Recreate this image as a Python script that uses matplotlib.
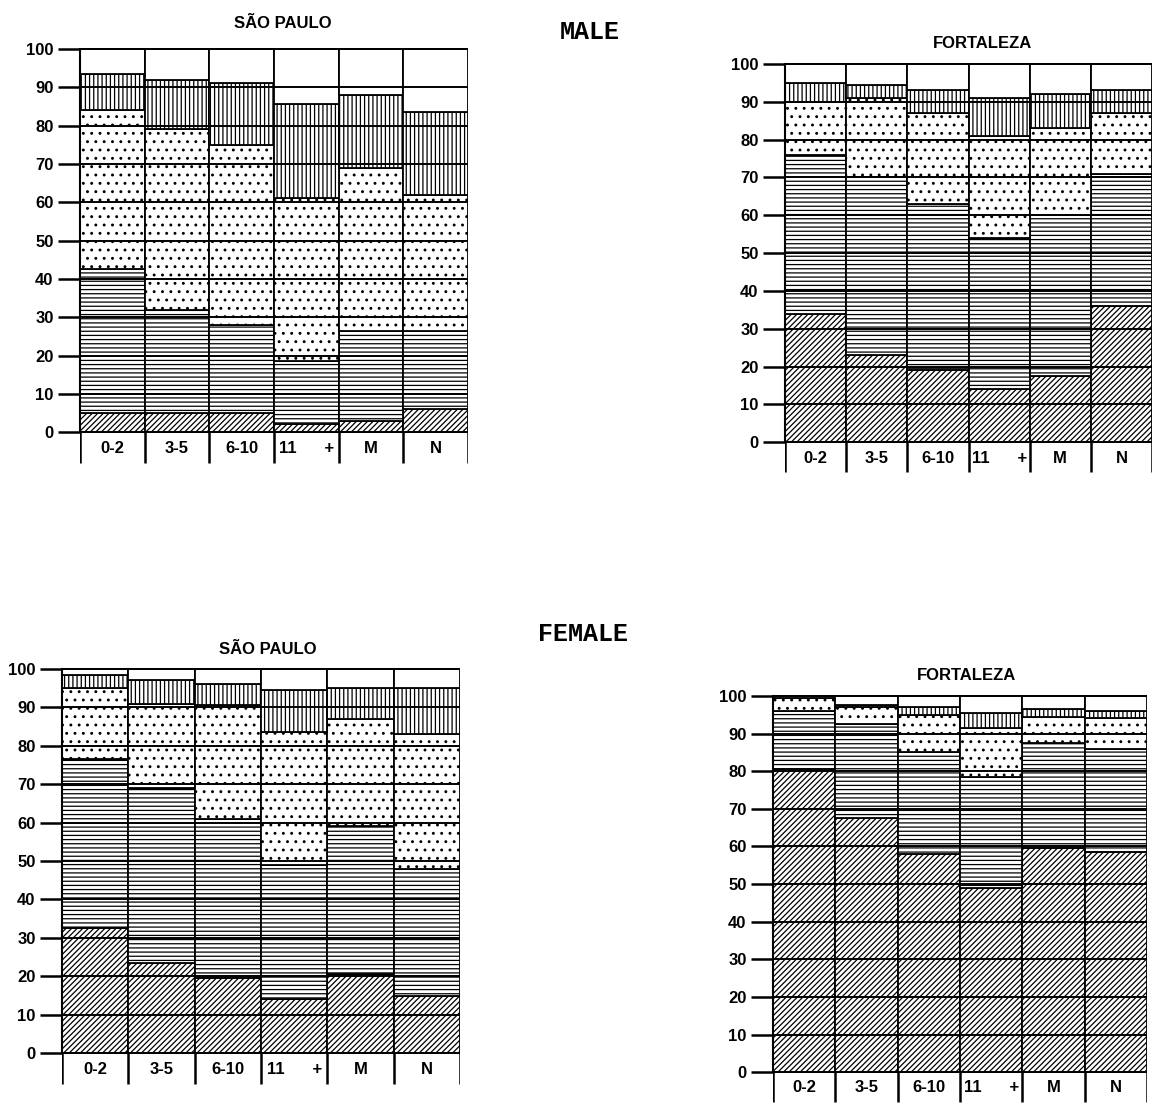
import numpy as np
import matplotlib
matplotlib.use("Agg")
import matplotlib.pyplot as plt

# categories (age groups + M, N)
categories = ['0-2', '3-5', '6-10', '11      +', 'M', 'N']
y_ticks = [0, 10, 20, 30, 40, 50, 60, 70, 80, 90, 100]

# percent in each band, bottom to top (diagonal, horizontal, dotted, vertical, blank)
male_sp_diag   = [5.0, 5.0, 5.0, 2.0, 3.0, 6.0]
male_sp_horiz  = [37.5, 27.0, 23.0, 16.5, 23.5, 20.5]
male_sp_dots   = [41.5, 47.0, 47.0, 42.5, 42.5, 35.5]
male_sp_vert   = [9.5, 13.0, 16.0, 24.5, 19.0, 21.5]
male_sp_blank  = [6.5, 8.0, 9.0, 14.5, 12.0, 16.5]

male_fo_diag   = [34.0, 23.0, 19.0, 14.0, 17.5, 36.0]
male_fo_horiz  = [42.0, 47.0, 44.0, 40.0, 42.5, 35.0]
male_fo_dots   = [14.0, 21.0, 24.0, 27.0, 23.0, 16.0]
male_fo_vert   = [5.0, 3.5, 6.0, 10.0, 9.0, 6.0]
male_fo_blank  = [5.0, 5.5, 7.0, 9.0, 8.0, 7.0]

fem_sp_diag    = [32.5, 23.5, 19.5, 14.0, 20.5, 15.0]
fem_sp_horiz   = [44.0, 45.5, 41.5, 35.0, 38.5, 33.0]
fem_sp_dots    = [18.5, 22.0, 29.5, 34.5, 28.0, 35.0]
fem_sp_vert    = [3.5, 6.0, 5.5, 11.0, 8.0, 12.0]
fem_sp_blank   = [1.5, 3.0, 4.0, 5.5, 5.0, 5.0]

fem_fo_diag    = [80.5, 67.5, 58.0, 49.0, 59.5, 58.5]
fem_fo_horiz   = [15.5, 25.0, 27.0, 29.5, 28.0, 27.5]
fem_fo_dots    = [3.5, 4.5, 10.0, 13.0, 7.0, 8.0]
fem_fo_vert    = [0.0, 0.5, 2.0, 4.0, 2.0, 2.0]
fem_fo_blank   = [0.5, 2.5, 3.0, 4.5, 3.5, 4.0]

HATCHES = ['//////', '----', '..', '||||', '']

W, H = 1156, 1107
plt.rcParams['hatch.linewidth'] = 0.9
plt.rcParams['font.family'] = ['Liberation Sans', 'DejaVu Sans']

fig = plt.figure(figsize=(W / 100, H / 100), dpi=100)
fig.patch.set_facecolor('white')

Y_LOW = -9.0


def panel(x0, x1, y100, y0, title, title_xy, bands):
    """x0/x1 = bar area in px, y100/y0 = pixel rows of 100 and 0."""
    ppu = (y0 - y100) / 100.0
    bottom_px = y0 - Y_LOW * ppu
    ax = fig.add_axes([x0 / W, 1 - bottom_px / H, (x1 - x0) / W, (bottom_px - y100) / H])
    x = np.arange(len(categories))
    base = np.zeros(len(categories))
    for vals, hatch in zip(bands, HATCHES):
        vals = np.array(vals)
        ax.bar(x, vals, bottom=base, width=1.0, color='white', edgecolor='black',
               hatch=hatch, linewidth=1.3, zorder=2)
        base += vals

    # horizontal rules at every tick, across the bars
    ax.hlines(y_ticks, -0.5, len(categories) - 0.5, color='black', lw=1.4, zorder=3)
    # separators of the label row
    ax.vlines(np.arange(len(categories) + 1) - 0.5, Y_LOW + 1, 0, color='black', lw=1.8, zorder=3)
    for xi, lab in zip(x, categories):
        ax.text(xi, Y_LOW / 2 + 0.3, lab, ha='center', va='center', fontsize=12, fontweight='bold')

    ax.set_xlim(-0.5, len(categories) - 0.5)
    ax.set_ylim(Y_LOW, 100.5)
    ax.set_xticks([])
    ax.set_yticks(y_ticks)
    ax.set_yticklabels([str(t) for t in y_ticks], fontsize=12, fontweight='bold')
    ax.tick_params(axis='y', length=16, width=1.8, pad=3)
    for s in ['top', 'right', 'bottom']:
        ax.spines[s].set_visible(False)
    ax.spines['left'].set_bounds(0, 100)
    ax.spines['left'].set_linewidth(1.5)
    ax.patch.set_alpha(0)

    fig.text(title_xy[0] / W, 1 - title_xy[1] / H, title, ha='center', va='center',
             fontsize=12, fontweight='bold')
    return ax


panel(80, 468, 47, 432, 'SÃO PAULO', (283, 24),
      [male_sp_diag, male_sp_horiz, male_sp_dots, male_sp_vert, male_sp_blank])
panel(785, 1152, 62, 442, 'FORTALEZA', (983, 43),
      [male_fo_diag, male_fo_horiz, male_fo_dots, male_fo_vert, male_fo_blank])
panel(62, 460, 667, 1053, 'SÃO PAULO', (268, 650),
      [fem_sp_diag, fem_sp_horiz, fem_sp_dots, fem_sp_vert, fem_sp_blank])
panel(773, 1147, 694, 1072, 'FORTALEZA', (967, 676),
      [fem_fo_diag, fem_fo_horiz, fem_fo_dots, fem_fo_vert, fem_fo_blank])

fig.text(590 / W, 1 - 32 / H, 'MALE', ha='center', va='center', fontsize=18,
         fontweight='bold', family=['Liberation Mono', 'DejaVu Sans Mono'])
fig.text(583 / W, 1 - 634 / H, 'FEMALE', ha='center', va='center', fontsize=18,
         fontweight='bold', family=['Liberation Mono', 'DejaVu Sans Mono'])

fig.savefig('out.png', dpi=100, facecolor='white')
